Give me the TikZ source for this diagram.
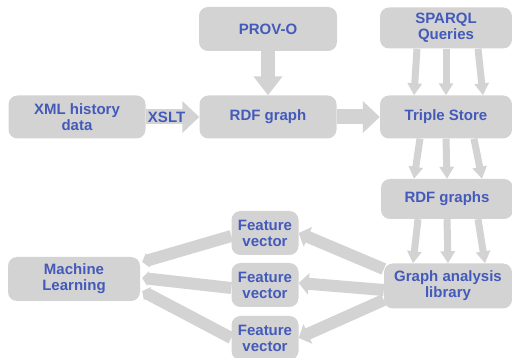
\documentclass[tikz,border=0pt]{standalone}
\usepackage{fontspec}
\setmainfont{Liberation Sans}
\usepackage{xcolor}
\usepackage{tikz}
\usetikzlibrary{arrows.meta}
\usetikzlibrary{calc}
\definecolor{boxgray}{RGB}{211,211,211}
\definecolor{txtblue}{RGB}{68,90,186}

\begin{document}
\begin{tikzpicture}[x=1pt, y=-1pt,
    box/.style={fill=boxgray, rounded corners=9pt, inner sep=2pt, align=center,
        text=txtblue, font=\bfseries\fontsize{15}{16}\selectfont},
    bigarrow/.style={draw=boxgray, line width=15pt, -{Triangle[width=31pt,length=17pt]}},
    midarrow/.style={draw=boxgray, line width=12pt, -{Triangle[width=21pt,length=10pt]}},
    smallarrow/.style={draw=boxgray, line width=7pt, -{Triangle[width=14pt,length=12pt]}}]
            \useasboundingbox (0,0) rectangle (512,358);

            % Boites
            \node[box, minimum width=138pt, minimum height=44pt] (prov) at (268,29) {PROV-O};
            \node[box, minimum width=132pt, minimum height=41pt] (sparql) at (446,28) {SPARQL\\Queries};
            \node[box, minimum width=137pt, minimum height=43pt] (xml) at (77,117) {XML history\\data};
            \node[box, minimum width=137pt, minimum height=43pt] (rdf) at (268,117) {RDF graph};
            \node[box, minimum width=132pt, minimum height=43pt] (store) at (446,117) {Triple Store};
            \node[box, minimum width=132pt, minimum height=40pt] (graphs) at (447,199) {RDF graphs};
            \node[box, minimum width=128pt, minimum height=45pt] (lib) at (448,286) {Graph analysis\\library};
            \node[box, minimum width=132pt, minimum height=44pt] (ml) at (74,279) {Machine\\Learning};
            \node[box, minimum width=67pt, minimum height=44pt] (fv1) at (265,233) {Feature\\vector};
            \node[box, minimum width=67pt, minimum height=44pt] (fv2) at (265,285) {Feature\\vector};
            \node[box, minimum width=67pt, minimum height=44pt] (fv3) at (265,338) {Feature\\vector};

            % Fleches principales
            \draw[bigarrow] (xml.east) -- (rdf.west)
                node[pos=0.39, text=txtblue, font=\bfseries\fontsize{15}{16}\selectfont] (xslt) {XSLT};
            \draw[bigarrow] (rdf.east) -- (store.west);
            \draw[bigarrow, line width=14pt, -{Triangle[width=28pt,length=19pt]}] (prov.south) -- (rdf.north);

            % Requetes vers le triple store
            \draw[smallarrow] ($(sparql.south)+(-29,0)$) -- ($(store.north)+(-32,0)$);
            \draw[smallarrow] (sparql.south) -- (store.north);
            \draw[smallarrow] ($(sparql.south)+(32,0)$) -- ($(store.north)+(37,0)$);

            \draw[smallarrow] ($(store.south)+(-26,0)$) -- ($(graphs.north)+(-33,0)$);
            \draw[smallarrow] (store.south) -- (graphs.north);
            \draw[smallarrow] ($(store.south)+(28,0)$) -- ($(graphs.north)+(35,0)$);

            \draw[smallarrow] ($(graphs.south)+(-29,0)$) -- ($(lib.north)+(-35,0)$);
            \draw[smallarrow] (graphs.south) -- (lib.north);
            \draw[smallarrow] ($(graphs.south)+(31,0)$) -- ($(lib.north)+(37,0)$);

            % Vecteurs
            \draw[midarrow] ($(lib.west)+(0,-17)$) -- (fv1.east);
            \draw[midarrow] ($(lib.west)+(0,4)$) -- ($(fv2.east)+(0,-2)$);
            \draw[midarrow] ($(lib.west)+(0,14)$) -- (fv3.east);

            \draw[midarrow, -{Triangle[width=15pt,length=6pt]}] ($(fv1.west)+(0,3)$) -- ($(ml.east)+(2,-17)$);
            \draw[midarrow, -{Triangle[width=15pt,length=6pt]}] ($(fv2.west)+(0,3)$) -- ($(ml.east)+(2,-1)$);
            \draw[midarrow, -{Triangle[width=15pt,length=6pt]}] (fv3.west) -- ($(ml.east)+(2,12)$);
        \end{tikzpicture}
\end{document}
